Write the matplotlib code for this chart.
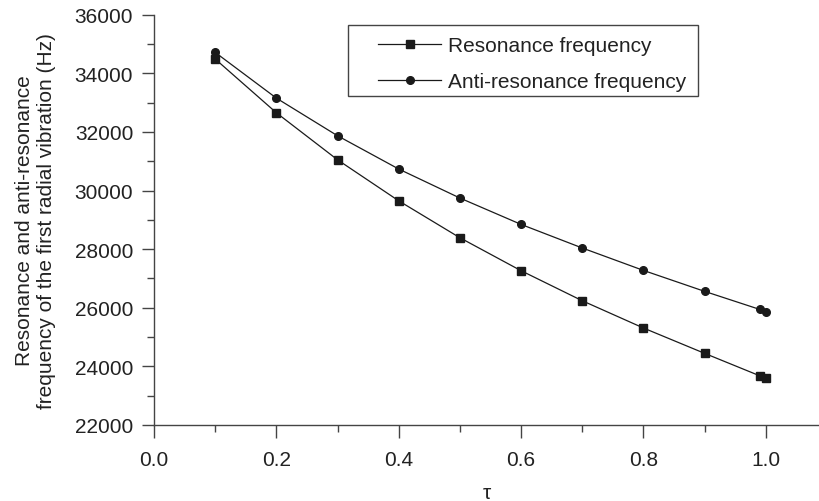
import matplotlib
matplotlib.use("Agg")
import matplotlib.pyplot as plt
from matplotlib.patches import Rectangle
from matplotlib.ticker import MultipleLocator

# data
tau = [0.1, 0.2, 0.3, 0.4, 0.5, 0.6, 0.7, 0.8, 0.9, 0.99, 1.0]
f_res = [34490, 32655, 31050, 29650, 28390, 27265, 26240, 25310, 24445, 23680, 23600]
f_anti = [34715, 33155, 31870, 30735, 29745, 28845, 28040, 27275, 26560, 25945, 25865]

plt.rcParams['font.family'] = ['Liberation Sans', 'DejaVu Sans']
ink = '#1a1a1a'
axc = '#444444'

fig = plt.figure(figsize=(8.19, 5.02), dpi=100)
ax = fig.add_axes([0.188, 0.1514, 0.812, 0.8173])

ax.plot(tau, f_res, '-', color=ink, lw=0.9, marker='s', ms=5.2, label='Resonance frequency')
ax.plot(tau, f_anti, '-', color=ink, lw=0.9, marker='o', ms=5.5, label='Anti-resonance frequency')

ax.set_xlim(0, 1.087)
ax.set_ylim(22000, 36000)
ax.xaxis.set_major_locator(MultipleLocator(0.2))
ax.xaxis.set_minor_locator(MultipleLocator(0.1))
ax.yaxis.set_major_locator(MultipleLocator(2000))
ax.yaxis.set_minor_locator(MultipleLocator(1000))
ax.xaxis.set_major_formatter(plt.FormatStrFormatter('%.1f'))

for s in ['top', 'right']:
    ax.spines[s].set_visible(False)
for s in ['left', 'bottom']:
    ax.spines[s].set_color(axc)
    ax.spines[s].set_linewidth(1.0)

ax.tick_params(which='major', direction='out', length=9, width=1.0, color=axc,
               labelsize=15, labelcolor='#222222', pad=6)
ax.tick_params(which='minor', direction='out', length=5, width=1.0, color=axc)
ax.tick_params(axis='x', which='major', pad=9)

ax.set_xlabel('τ', fontsize=15, color='#222222', labelpad=10)
ax.set_ylabel('Resonance and anti-resonance\nfrequency of the first radial vibration (Hz)',
              fontsize=15, color='#222222', labelpad=13, linespacing=1.25)

# legend: entries without frame, box drawn separately (wider left margin)
leg = ax.legend(loc='upper left', bbox_to_anchor=(0.3373, 0.947), fontsize=15,
                frameon=False, handlelength=3.0, handletextpad=0.33,
                borderpad=0, labelspacing=0.79, borderaxespad=0)
for t in leg.get_texts():
    t.set_color('#222222')
ax.add_patch(Rectangle((0.2922, 0.8019), 0.5256, 0.1731, transform=ax.transAxes,
                       fill=False, edgecolor=axc, lw=1.0, zorder=5))

fig.savefig('out.png', dpi=100)
